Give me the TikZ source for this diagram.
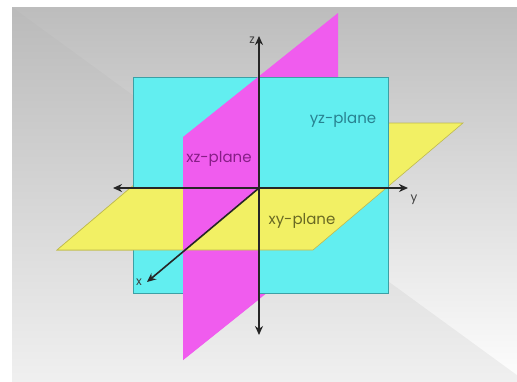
\documentclass[tikz,border=0pt]{standalone}
\usepackage{fontspec}
\setmainfont{Poppins}
\usetikzlibrary{arrows.meta, positioning}

\definecolor{cyanpl}{RGB}{98,238,240}
\definecolor{cyanedge}{RGB}{60,160,165}
\definecolor{magpl}{RGB}{240,92,238}
\definecolor{yelpl}{RGB}{242,240,100}
\definecolor{yeledge}{RGB}{190,185,80}
\definecolor{yztext}{RGB}{40,130,145}
\definecolor{xztext}{RGB}{135,30,135}
\definecolor{xytext}{RGB}{105,105,35}

\begin{document}
\begin{tikzpicture}[x=1pt, y=-1pt,
  axis/.style={line width=1.6pt, black!85},
  tip/.style={-{Stealth[length=9pt, width=8pt]}},
  lbl/.style={inner sep=1pt, font=\fontsize{15}{15}\selectfont},
  axlbl/.style={inner sep=1pt, font=\fontsize{12}{12}\selectfont, black!75}]
\useasboundingbox (0,0) rectangle (517,381);
% slide background
\shade[top color=black!27, bottom color=black!6] (12,7) rectangle (517,381);
\shade[top color=black!26, bottom color=black!1] (12,7) -- (517,7) -- (517,375) -- cycle;

% planes, back parts first
\filldraw[fill=yelpl, draw=yeledge, line width=0.6pt] (57,250) -- (313,250) -- (463,123) -- (207,123) -- cycle;
\fill[magpl] (183,137) -- (338,13) -- (338,236) -- (183,360) -- cycle;
\filldraw[fill=cyanpl, draw=cyanedge, line width=0.8pt] (133,77) rectangle (388,293);
\begin{scope}
  \clip (183,0) rectangle (259,381);
  \fill[magpl] (183,137) -- (338,13) -- (338,236) -- (183,360) -- cycle;
\end{scope}
\begin{scope}
  \clip (0,188) rectangle (517,381);
  \filldraw[fill=yelpl, draw=yeledge, line width=0.6pt] (57,250) -- (313,250) -- (463,123) -- (207,123) -- cycle;
\end{scope}
\fill[magpl] (183,188) -- (259,188) -- (183,251.5) -- cycle;

% axes
\coordinate (O) at (259,188);
\coordinate (ztop) at (259,36);
\coordinate (zbot) at (259,335);
\coordinate (yleft) at (113,188);
\coordinate (yright) at (408,188);
\coordinate (xend) at (147,282);
\draw[axis, tip] (O) -- (ztop);
\draw[axis, tip] (O) -- (zbot);
\draw[axis, tip] (O) -- (yleft);
\draw[axis, tip] (O) -- (yright);
\draw[axis, tip] (O) -- (xend);

\node[axlbl, left=3pt of ztop, yshift=-4pt] (zlbl) {z};
\node[axlbl] (ylbl) at (414,200) {y};
\node[axlbl] (xlbl) at (139,282) {x};

% plane labels
\node[lbl, text=yztext] (yz) at (343,120) {yz-plane};
\node[lbl, text=xztext] (xz) at (219,159) {xz-plane};
\node[lbl, text=xytext] (xy) at (302,221) {xy-plane};
\end{tikzpicture}
\end{document}
